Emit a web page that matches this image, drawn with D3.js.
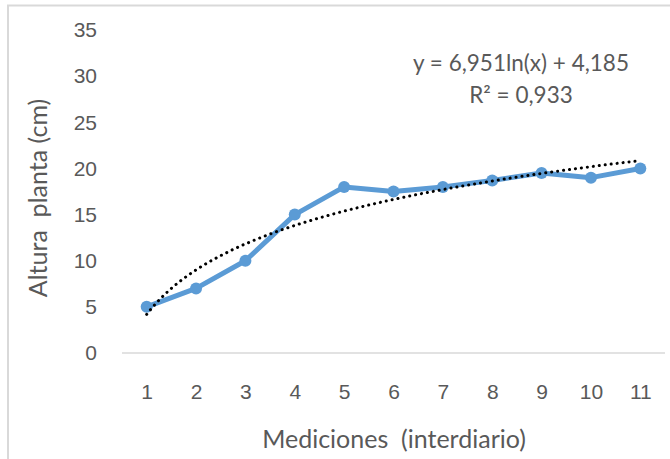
<!DOCTYPE html>
<html>
<head>
<meta charset="utf-8">
<script src="https://cdn.jsdelivr.net/npm/d3@7"></script>
<style>
  html, body { margin: 0; padding: 0; background: #fff; }
  svg { display: block; font-family: Lato, "Open Sans", sans-serif; }
</style>
</head>
<body>
<svg id="chart" width="670" height="459"></svg>
<script>
// Plant height measured every other day
const mediciones = [1, 2, 3, 4, 5, 6, 7, 8, 9, 10, 11];
const altura = [5, 7, 10, 15, 18, 17.5, 18, 18.7, 19.5, 19, 20];
const yTicks = [0, 5, 10, 15, 20, 25, 30, 35];

// Logarithmic trend line: y = a ln(x) + b
const trendA = 6.951;
const trendB = 4.185;
const trendLabel = "y = 6,951ln(x) + 4,185";
const r2Label = "R² = 0,933";

const xTitle = "Mediciones\u00a0\u00a0(interdiario)";
const yTitle = "Altura\u00a0\u00a0planta (cm)";

const svg = d3.select("#chart");
const gray = "#595959";

// chart area frame
svg.append("path")
  .attr("d", "M8,459 V5.5 H670")
  .attr("fill", "none")
  .attr("stroke", "#d9d9d9")
  .attr("stroke-width", 2);

const plot = { left: 122, right: 665, top: 30, bottom: 353 };

const x = d3.scalePoint()
  .domain(mediciones)
  .range([plot.left, plot.right])
  .padding(0.5);

const y = d3.scaleLinear()
  .domain([0, 35])
  .range([plot.bottom, plot.top]);

// y axis labels (no axis line)
const yAxis = svg.append("g")
  .attr("transform", "translate(97,0)")
  .call(d3.axisLeft(y).tickValues(yTicks).tickSize(0).tickPadding(0));
yAxis.select(".domain").remove();
yAxis.selectAll("text")
  .attr("fill", gray)
  .attr("font-size", 21);

// baseline
svg.append("line")
  .attr("x1", plot.left).attr("x2", plot.right)
  .attr("y1", y(0)).attr("y2", y(0))
  .attr("stroke", "#d9d9d9")
  .attr("stroke-width", 1.3);

// x axis labels
const xAxis = svg.append("g")
  .attr("transform", `translate(0,${y(0) + 39})`)
  .call(d3.axisBottom(x).tickSize(0).tickPadding(0));
xAxis.select(".domain").remove();
xAxis.selectAll("text")
  .attr("fill", gray)
  .attr("font-size", 21)
  .attr("dy", "0.35em");

// data series
const line = d3.line()
  .x((d, i) => x(mediciones[i]))
  .y(d => y(d));

svg.append("path")
  .datum(altura)
  .attr("d", line)
  .attr("fill", "none")
  .attr("stroke", "#5b9bd5")
  .attr("stroke-width", 5)
  .attr("stroke-linejoin", "round");

svg.selectAll("circle.pt")
  .data(altura)
  .join("circle")
  .attr("class", "pt")
  .attr("cx", (d, i) => x(mediciones[i]))
  .attr("cy", d => y(d))
  .attr("r", 6)
  .attr("fill", "#5b9bd5");

// trend line sampled along the category positions
const step = x.step();
const trendPts = d3.range(1, 11.0001, 0.1).map(t => [
  x(1) + (t - 1) * step,
  y(trendA * Math.log(t) + trendB)
]);
svg.append("path")
  .attr("d", d3.line()(trendPts))
  .attr("fill", "none")
  .attr("stroke", "#000")
  .attr("stroke-width", 3)
  .attr("stroke-linecap", "round")
  .attr("stroke-dasharray", "0.1 5.9");

// trend equation
svg.append("text")
  .attr("x", 521).attr("y", 71)
  .attr("text-anchor", "middle")
  .attr("fill", gray)
  .attr("font-size", 22.5)
  .text(trendLabel);
svg.append("text")
  .attr("x", 521).attr("y", 103)
  .attr("text-anchor", "middle")
  .attr("fill", gray)
  .attr("font-size", 22.5)
  .text(r2Label);

// axis titles
svg.append("text")
  .attr("x", 394).attr("y", 448)
  .attr("text-anchor", "middle")
  .attr("fill", gray)
  .attr("font-size", 25)
  .text(xTitle);

svg.append("text")
  .attr("transform", "translate(47,198) rotate(-90)")
  .attr("text-anchor", "middle")
  .attr("fill", gray)
  .attr("font-size", 25)
  .text(yTitle);
</script>
</body>
</html>
